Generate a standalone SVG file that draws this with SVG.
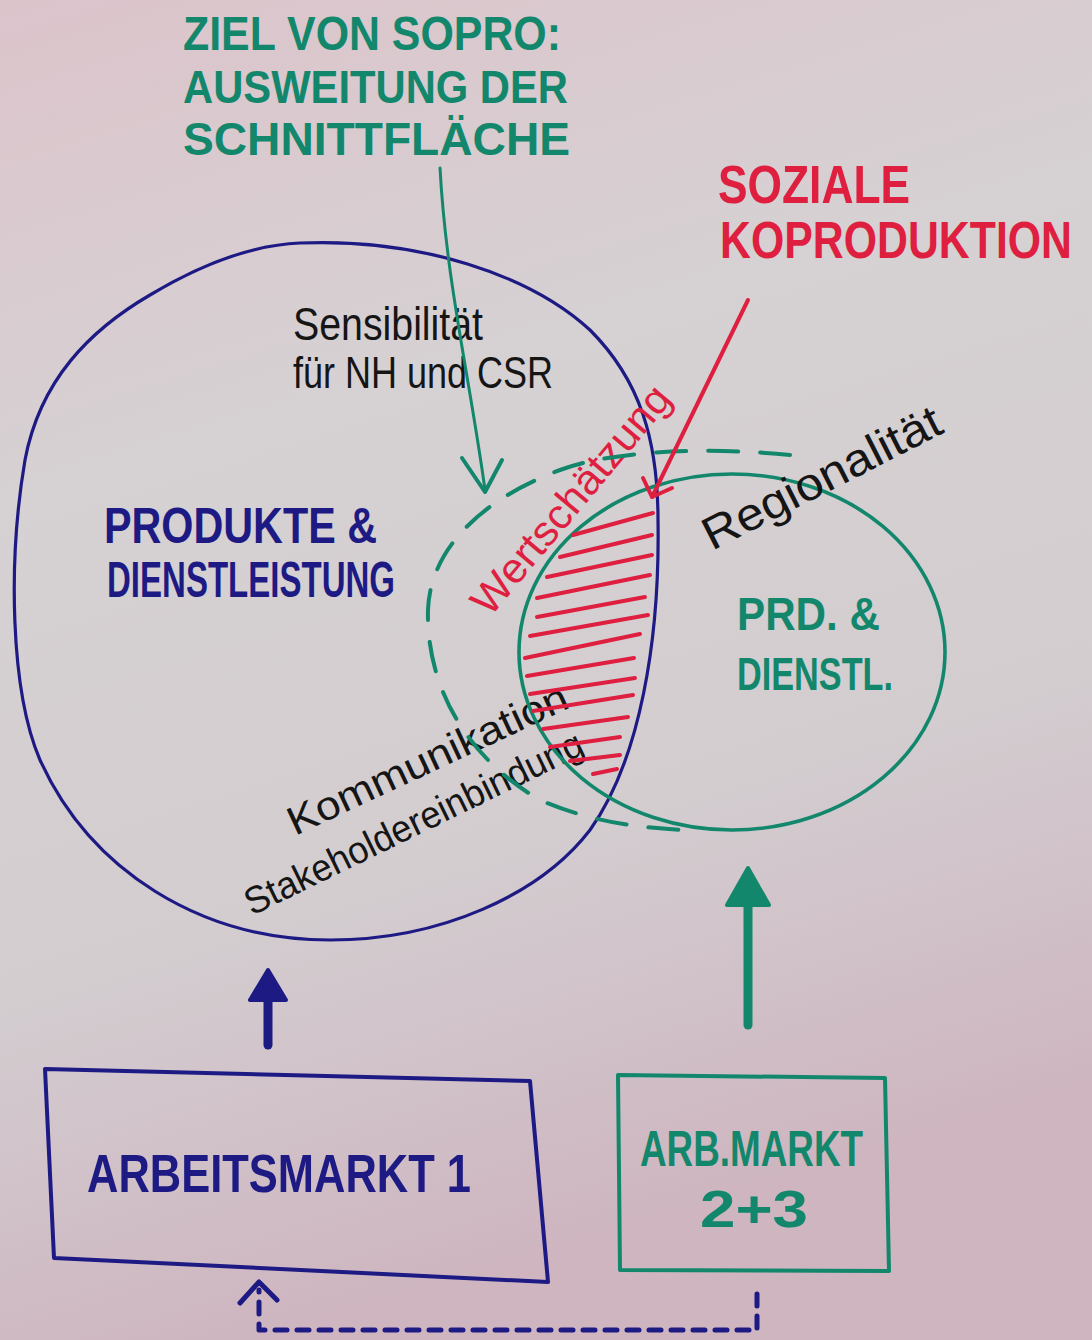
<svg xmlns="http://www.w3.org/2000/svg" width="1092" height="1340" viewBox="0 0 1092 1340">
<defs>
<linearGradient id="paper" x1="0" y1="0" x2="0.25" y2="1">
<stop offset="0" stop-color="#dcc4cb"/>
<stop offset="0.35" stop-color="#d6d1d3"/>
<stop offset="0.7" stop-color="#d3cdd0"/>
<stop offset="1" stop-color="#ceb5c0"/>
</linearGradient>
<style>
.blue{stroke:#1e1a84;fill:none;stroke-linecap:round;stroke-linejoin:round}
.green{stroke:#13876c;fill:none;stroke-linecap:round;stroke-linejoin:round}
.red{stroke:#df1f3f;fill:none;stroke-linecap:round;stroke-linejoin:round}
.hatch line{stroke:#df1f3f;stroke-width:4;stroke-linecap:round}
.caps{font-family:"Liberation Sans",Arial,sans-serif;font-weight:700}
.hand{font-family:"Liberation Sans",Arial,sans-serif;fill:#151515}
.tg{fill:#13876c}.tb{fill:#1e1a84}.tr{fill:#df1f3f}
</style>
</defs>
<rect x="0" y="0" width="1092" height="1340" fill="url(#paper)"/>

<g id="ziel-label">
<text class="caps tg" x="183" y="50" font-size="48" textLength="378" lengthAdjust="spacingAndGlyphs">ZIEL VON SOPRO:</text>
<text class="caps tg" x="183" y="103" font-size="46" textLength="385" lengthAdjust="spacingAndGlyphs">AUSWEITUNG DER</text>
<text class="caps tg" x="183" y="155" font-size="46" textLength="387" lengthAdjust="spacingAndGlyphs">SCHNITTFLÄCHE</text>
</g>

<g id="soziale-koproduktion-label">
<text class="caps tr" transform="translate(718,203) scale(1,1.2)" font-size="44" textLength="192" lengthAdjust="spacingAndGlyphs">SOZIALE</text>
<text class="caps tr" transform="translate(720,258) scale(1,1.2)" font-size="43" textLength="352" lengthAdjust="spacingAndGlyphs">KOPRODUKTION</text>
</g>

<g id="produkte-dienstleistung">
<path class="blue" stroke-width="3.2" d="M 300 243 C 420 238, 530 275, 590 330 C 640 380, 658 440, 658 520 C 660 640, 640 760, 590 830 C 540 895, 440 940, 330 940 C 200 940, 90 870, 40 760 C 10 690, 8 560, 25 460 C 40 380, 90 330, 150 295 C 200 265, 250 245, 300 243 Z"/>
<text class="caps tb" x="104" y="543" font-size="50" textLength="273" lengthAdjust="spacingAndGlyphs">PRODUKTE &amp;</text>
<text class="caps tb" x="107" y="597" font-size="50" textLength="288" lengthAdjust="spacingAndGlyphs">DIENSTLEISTUNG</text>
<text class="hand" x="293" y="340" font-size="46" textLength="190" lengthAdjust="spacingAndGlyphs">Sensibilität</text>
<text class="hand" x="293" y="388" font-size="44" textLength="260" lengthAdjust="spacingAndGlyphs">für NH und CSR</text>
<text class="hand" transform="translate(295,836) rotate(-25)" font-size="40" textLength="305" lengthAdjust="spacingAndGlyphs">Kommunikation</text>
<text class="hand" transform="translate(252,916) rotate(-26)" font-size="38" textLength="372" lengthAdjust="spacingAndGlyphs">Stakeholdereinbindung</text>
</g>

<g id="prd-dienstl">
<ellipse class="green" stroke-width="3.6" cx="732" cy="652" rx="213" ry="178"/>
<text class="caps tg" x="737" y="630" font-size="46" textLength="143" lengthAdjust="spacingAndGlyphs">PRD. &amp;</text>
<text class="caps tg" x="737" y="690" font-size="46" textLength="156" lengthAdjust="spacingAndGlyphs">DIENSTL.</text>
<text class="hand" transform="translate(712,551) rotate(-27)" font-size="46" textLength="262" lengthAdjust="spacingAndGlyphs">Regionalität</text>
</g>

<g id="schnittflaeche">
<g class="hatch">
<line x1="573" y1="535" x2="653" y2="513"/>
<line x1="560" y1="557" x2="652" y2="535"/>
<line x1="547" y1="577" x2="652" y2="555"/>
<line x1="537" y1="598" x2="650" y2="575"/>
<line x1="537" y1="617" x2="645" y2="597"/>
<line x1="530" y1="636" x2="648" y2="615"/>
<line x1="525" y1="658" x2="640" y2="634"/>
<line x1="527" y1="676" x2="634" y2="658"/>
<line x1="530" y1="694" x2="635" y2="678"/>
<line x1="533" y1="711" x2="633" y2="695"/>
<line x1="543" y1="729" x2="628" y2="717"/>
<line x1="550" y1="747" x2="620" y2="737"/>
<line x1="570" y1="761" x2="620" y2="755"/>
<line x1="593" y1="774" x2="617" y2="769"/>
</g>
<text class="hand tr" transform="translate(490,618) rotate(-50)" font-size="42" textLength="285" lengthAdjust="spacingAndGlyphs">Wertschätzung</text>
</g>

<g id="ausweitung">
<path class="green" stroke-width="4" stroke-dasharray="30 22" d="M 790 455 C 720 448, 620 448, 560 470 C 480 500, 430 550, 428 610 C 426 690, 470 760, 540 800 C 590 822, 640 828, 685 830"/>
</g>

<g id="arbeitsmarkt-1">
<path class="blue" stroke-width="4" d="M 45 1069 L 530 1081 L 548 1282 L 54 1258 Z"/>
<text class="caps tb" x="87" y="1192" font-size="54" textLength="384" lengthAdjust="spacingAndGlyphs">ARBEITSMARKT 1</text>
</g>

<g id="arbeitsmarkt-2-3">
<path class="green" stroke-width="4" d="M 618 1075 L 885 1078 L 889 1271 L 620 1270 Z"/>
<text class="caps tg" x="640" y="1166" font-size="50" textLength="223" lengthAdjust="spacingAndGlyphs">ARB.MARKT</text>
<text class="caps tg" x="700" y="1227" font-size="52" textLength="108" lengthAdjust="spacingAndGlyphs">2+3</text>
</g>

<g id="connectors">
<path class="green" stroke-width="3" d="M 440 168 C 446 280, 470 380, 485 490"/>
<polyline class="green" stroke-width="4" points="462,458 485,492 502,460"/>
<path class="red" stroke-width="4" d="M 748 300 L 652 497"/>
<polyline class="red" stroke-width="4" points="643,478 652,497 672,488"/>
<line class="blue" stroke-width="9" x1="268" y1="1045" x2="268" y2="990"/>
<polygon points="268,970 250,1000 286,1000" fill="#1e1a84" stroke="#1e1a84" stroke-width="4" stroke-linejoin="round"/>
<line class="green" stroke-width="9" x1="748" y1="1025" x2="748" y2="895"/>
<polygon points="748,868 727,905 769,905" fill="#13876c" stroke="#13876c" stroke-width="4" stroke-linejoin="round"/>
<path class="blue" stroke-width="5" stroke-dasharray="12 10" d="M 757 1294 L 757 1330 L 259 1330 L 259 1290"/>
<polyline class="blue" stroke-width="5" points="240,1303 259,1282 277,1300"/>
</g>
</svg>
